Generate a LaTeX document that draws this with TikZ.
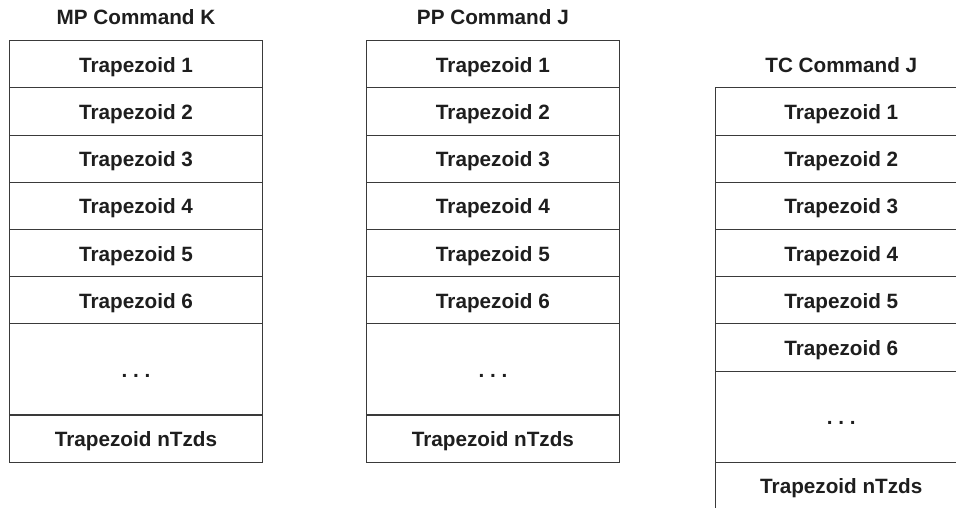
\documentclass[tikz,border=0pt]{standalone}
\usepackage{fontspec}
\setmainfont{Liberation Sans}
\usetikzlibrary{positioning}
\definecolor{linegray}{HTML}{3A3A3A}
\definecolor{textgray}{HTML}{1E1E1E}
\begin{document}
\begin{tikzpicture}[x=1pt,y=-1pt,
  cell/.style={draw=linegray, line width=1.1pt, rectangle,
    minimum width=252.5pt, minimum height=47.2pt, inner sep=0pt, outer sep=0pt,
    text height=18pt, text depth=2pt, text=textgray,
    font=\bfseries\fontsize{20.7}{24}\selectfont},
  dotcell/.style={cell, minimum height=91.1pt},
  coltitle/.style={anchor=base, text=textgray, inner sep=0pt,
    font=\bfseries\fontsize{20.7}{24}\selectfont}]
\clip (0,0) rectangle (956,508);
\fill[white] (0,0) rectangle (956,508);
\foreach \col/\x/\dy/\ttl in {mp/136/0/MP Command K, pp/492.9/0/PP Command J, tc/841.3/47.2/TC Command J}{
  \node[coltitle] (\col-title) at (\x, 25+\dy) {\ttl};
  \node[cell] (\col-1) at (\x, 64.3+\dy) {Trapezoid 1};
  \node[cell, below=0pt of \col-1] (\col-2) {Trapezoid 2};
  \node[cell, below=0pt of \col-2] (\col-3) {Trapezoid 3};
  \node[cell, below=0pt of \col-3] (\col-4) {Trapezoid 4};
  \node[cell, below=0pt of \col-4] (\col-5) {Trapezoid 5};
  \node[cell, below=0pt of \col-5] (\col-6) {Trapezoid 6};
  \node[dotcell, below=0pt of \col-6] (\col-dots) {.\ .\ .};
  \node[cell, below=0pt of \col-dots] (\col-n) {Trapezoid nTzds};
}
\end{tikzpicture}
\end{document}
